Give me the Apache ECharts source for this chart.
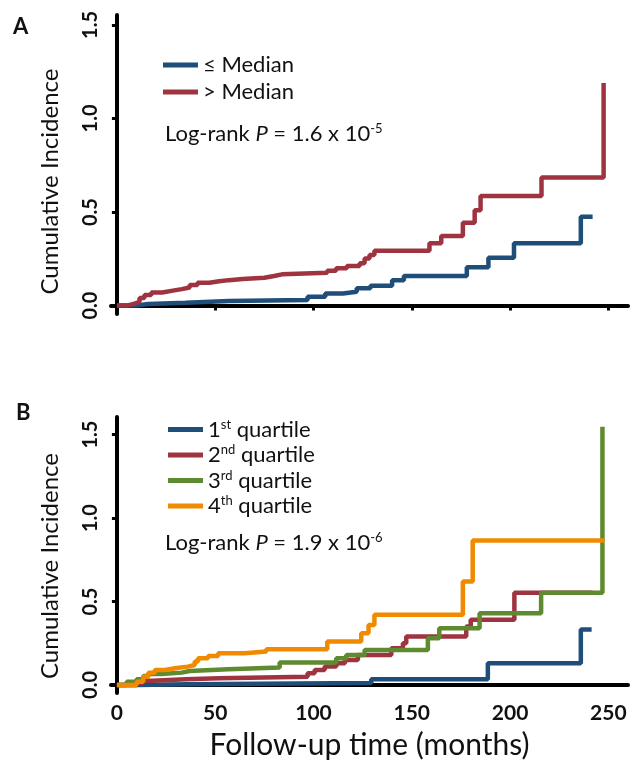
<!DOCTYPE html>
<html>
<head>
<meta charset="utf-8">
<script src="https://cdn.jsdelivr.net/npm/echarts@6/dist/echarts.min.js"></script>
<style>
  html, body { margin: 0; padding: 0; background: #fff; }
  #chart { width: 634px; height: 767px; }
</style>
</head>
<body>
<div id="chart"></div>
<script>
// Panel A: time (months), cumulative incidence
const belowMedian = [
    [0, 0], [10, 0.008], [16, 0.015], [35, 0.024], [57, 0.03], [97, 0.047], [106, 0.065],
    [115, 0.074], [122, 0.092], [129, 0.106], [140, 0.136], [146, 0.158], [178, 0.205],
    [189, 0.256], [202, 0.333], [236, 0.475], [242, 0.475]
];
const aboveMedian = [
    [0, 0], [5, 0.01], [9, 0.02], [11.5, 0.04], [14, 0.056], [17.5, 0.07], [23, 0.08],
    [28.5, 0.088], [33, 0.097], [37, 0.11], [41, 0.122], [47, 0.13], [52, 0.136], [57, 0.142],
    [64, 0.149], [75, 0.158], [80, 0.167], [84, 0.175], [107, 0.186], [111.5, 0.199],
    [117, 0.211], [123.5, 0.226], [126, 0.252], [128.5, 0.27], [131, 0.293], [159, 0.333],
    [165, 0.372], [176, 0.443], [182, 0.51], [185, 0.585], [216, 0.685], [247.6, 1.19]
];

// Panel B
const quartile1 = [
    [0, 0], [10, 0.005], [36, 0.012], [129.4, 0.035], [188.7, 0.13], [236, 0.333], [241.5, 0.333]
];
const quartile2 = [
    [0, 0], [10, 0.012], [13, 0.025], [18, 0.035], [35, 0.04], [52, 0.05], [97, 0.07],
    [100.6, 0.09], [105.7, 0.11], [111.6, 0.13], [116, 0.15], [122.6, 0.18], [139.6, 0.22],
    [145.5, 0.25], [147.2, 0.29], [177.7, 0.35], [180, 0.39], [202.2, 0.553], [242, 0.553]
];
const quartile3 = [
    [0, 0], [5, 0.02], [10, 0.034], [13.4, 0.054], [16, 0.066], [22.7, 0.074], [33, 0.084],
    [37, 0.094], [56.6, 0.104], [82.8, 0.134], [111.6, 0.16], [116.7, 0.18], [126, 0.21],
    [158.2, 0.28], [164, 0.34], [184.5, 0.43], [215.8, 0.553], [247, 1.547]
];
const quartile4 = [
    [0, 0], [10, 0.02], [13.4, 0.05], [16, 0.074], [19.3, 0.09], [24.4, 0.1], [29.5, 0.11],
    [36, 0.12], [39.6, 0.14], [41.3, 0.16], [46.4, 0.174], [51.5, 0.19], [65, 0.2], [76, 0.214],
    [107, 0.26], [124.3, 0.31], [128, 0.36], [131, 0.42], [176, 0.62], [181, 0.865], [248, 0.865]
];

const yTicks = [0, 0.5, 1.0, 1.5];
const xTicks = [0, 50, 100, 150, 200, 250];

const colors = {
    blue: "#1f4e7a",
    red: "#9e3440",
    green: "#5e8a30",
    orange: "#f08a00"
};
const font = "Lato";
const ink = "#111";

function yAxisOpt(gridIndex, min, max, nameShift) {
    return {
        gridIndex: gridIndex,
        type: "value",
        min: min,
        max: max,
        name: "Cumulative Incidence",
        nameLocation: "middle",
        nameGap: 49,
        nameTextStyle: { fontFamily: font, fontSize: 24, color: ink, padding: [0, nameShift, 0, 0] },
        axisLine: { show: true, lineStyle: { color: "#000", width: 4 } },
        axisTick: { show: true, length: 5, lineStyle: { color: "#000", width: 3 }, customValues: yTicks },
        axisLabel: {
            rotate: 90,
            margin: 10,
            fontFamily: font,
            fontWeight: "bold",
            fontSize: 20,
            color: ink,
            customValues: yTicks,
            formatter: v => v.toFixed(1)
        },
        splitLine: { show: false }
    };
}

function xAxisOpt(gridIndex, showLabels) {
    return {
        gridIndex: gridIndex,
        type: "value",
        min: -3,
        max: 260,
        name: showLabels ? "Follow-up time (months)" : "",
        nameLocation: "middle",
        nameGap: 37,
        nameTextStyle: { fontFamily: font, fontSize: 30, color: ink },
        axisLine: { show: true, lineStyle: { color: "#000", width: 4 } },
        axisTick: { show: !showLabels, length: 5, lineStyle: { color: "#000", width: 3 }, customValues: xTicks },
        axisLabel: {
            show: showLabels,
            margin: 10,
            fontFamily: font,
            fontWeight: "bold",
            fontSize: 21,
            color: ink,
            customValues: xTicks
        },
        splitLine: { show: false }
    };
}

function stepSeries(name, data, color, gridIndex) {
    return {
        name: name,
        type: "line",
        step: "end",
        xAxisIndex: gridIndex,
        yAxisIndex: gridIndex,
        showSymbol: false,
        silent: true,
        lineStyle: { color: color, width: 4.5 },
        itemStyle: { color: color },
        data: data
    };
}

const supRich = {
    s: { fontFamily: font, fontSize: 13, color: ink, verticalAlign: "bottom", padding: [0, 0, 10, 0] },
    i: { fontFamily: font, fontSize: 22, fontStyle: "italic", color: ink }
};

const quartileLabels = {
    "1st quartile": "1{s|st} quartile",
    "2nd quartile": "2{s|nd} quartile",
    "3rd quartile": "3{s|rd} quartile",
    "4th quartile": "4{s|th} quartile"
};

const chart = echarts.init(document.getElementById("chart"), null, { renderer: "canvas" });
chart.setOption({
    backgroundColor: "#fff",
    animation: false,
    title: [
        { text: "A", left: 8, top: 11, textStyle: { fontFamily: font, fontSize: 22, fontWeight: "bold", color: ink } },
        { text: "B", left: 11, top: 397, textStyle: { fontFamily: font, fontSize: 22, fontWeight: "bold", color: ink } },
        {
            text: "Log-rank {i|P} = 1.6 x 10{s|-5}",
            left: 160, top: 117,
            textStyle: { fontFamily: font, fontSize: 22, fontWeight: "normal", color: ink, rich: supRich }
        },
        {
            text: "Log-rank {i|P} = 1.9 x 10{s|-6}",
            left: 160, top: 526,
            textStyle: { fontFamily: font, fontSize: 22, fontWeight: "normal", color: ink, rich: supRich }
        }
    ],
    legend: [
        {
            data: ["≤ Median", "> Median"],
            orient: "vertical",
            left: 158,
            top: 49,
            itemWidth: 35,
            itemHeight: 5,
            itemGap: 5,
            icon: "rect",
            textStyle: { fontFamily: font, fontSize: 22, color: ink },
            selectedMode: false
        },
        {
            data: ["1st quartile", "2nd quartile", "3rd quartile", "4th quartile"],
            orient: "vertical",
            left: 163,
            top: 413,
            itemWidth: 35,
            itemHeight: 5,
            itemGap: 3,
            icon: "rect",
            formatter: name => quartileLabels[name],
            textStyle: { fontFamily: font, fontSize: 22, color: ink, rich: supRich },
            selectedMode: false
        }
    ],
    grid: [
        { left: 111, right: 6, top: 15, bottom: 453 },
        { left: 111, right: 6, top: 417, bottom: 74 }
    ],
    xAxis: [xAxisOpt(0, false), xAxisOpt(1, true)],
    yAxis: [yAxisOpt(0, -0.045, 1.553, 34), yAxisOpt(1, -0.048, 1.605, 22)],
    series: [
        stepSeries("≤ Median", belowMedian, colors.blue, 0),
        stepSeries("> Median", aboveMedian, colors.red, 0),
        stepSeries("1st quartile", quartile1, colors.blue, 1),
        stepSeries("2nd quartile", quartile2, colors.red, 1),
        stepSeries("3rd quartile", quartile3, colors.green, 1),
        stepSeries("4th quartile", quartile4, colors.orange, 1)
    ]
});
</script>
</body>
</html>
